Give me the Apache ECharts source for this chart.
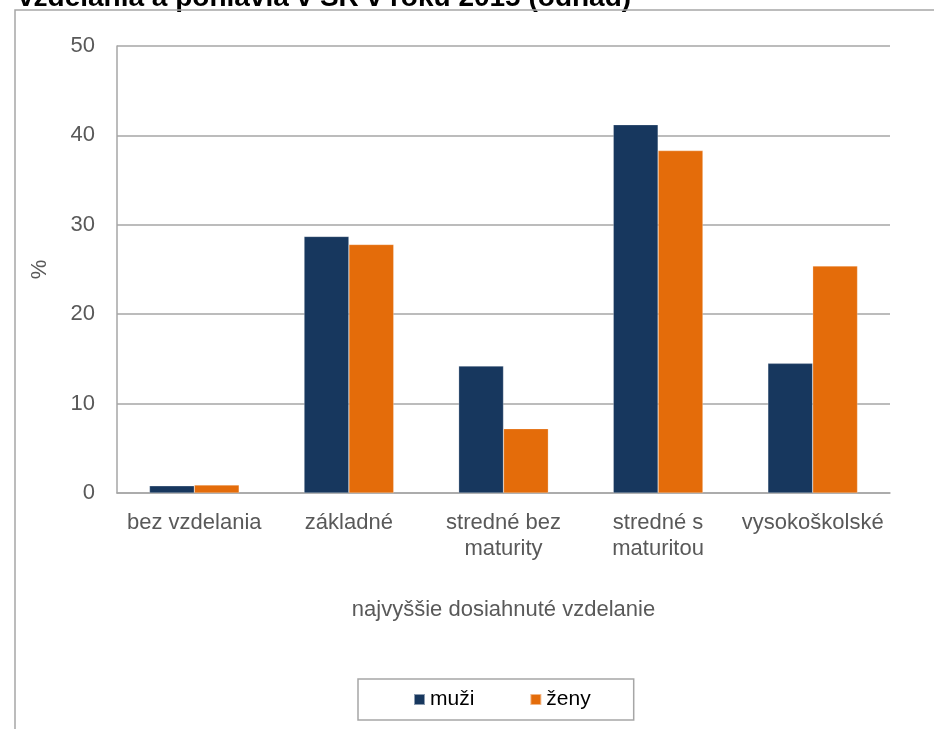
<!DOCTYPE html>
<html>
<head>
<meta charset="utf-8">
<script src="https://cdn.jsdelivr.net/npm/echarts@6/dist/echarts.min.js"></script>
<style>html,body{margin:0;padding:0;background:#fff;}#c{width:934px;height:729px;}</style>
</head>
<body>
<div id="c"></div>
<script>
var categories = ['bez vzdelania', 'základné', 'stredné bez\nmaturity', 'stredné s\nmaturitou', 'vysokoškolské'];
var seriesNames = ['muži', 'ženy'];
var muzi = [0.8, 28.7, 14.2, 41.2, 14.5];
var zeny = [0.9, 27.8, 7.2, 38.3, 25.4];
var yTicks = { min: 0, max: 50, interval: 10 };
var titleText = 'vzdelania a pohlavia v SR v roku 2015 (odhad)';
var xName = 'najvyššie dosiahnuté vzdelanie';
var yName = '%';

var FONT = '"Liberation Sans", Arial, sans-serif';
var chart = echarts.init(document.getElementById('c'));
chart.setOption({
  animation: false,
  backgroundColor: '#fff',
  textStyle: { fontFamily: FONT },
  graphic: [
    { type: 'text', left: 18, top: -16, style: { text: titleText, font: 'bold 28px "Liberation Sans", Arial, sans-serif', fill: '#000' } },
    { type: 'rect', shape: { x: 15, y: 10, width: 1200, height: 1200 }, style: { fill: 'none', stroke: '#a6a6a6', lineWidth: 1.5 }, silent: true }
  ],
  grid: { left: 117, right: 44, top: 46, bottom: 236 },
  legend: {
    data: seriesNames,
    left: 358, top: 679,
    padding: [10, 43, 10, 55],
    itemGap: 55,
    itemWidth: 11, itemHeight: 11,
    icon: 'rect',
    borderColor: '#a6a6a6', borderWidth: 1.5,
    textStyle: { fontSize: 21, color: '#000', fontFamily: FONT }
  },
  xAxis: {
    type: 'category',
    data: categories,
    name: xName,
    nameLocation: 'middle',
    nameGap: 106,
    nameTextStyle: { fontSize: 22, color: '#595959' },
    axisLine: { lineStyle: { color: '#a6a6a6', width: 1.5 } },
    axisTick: { show: false },
    axisLabel: { fontSize: 22, color: '#595959', margin: 17, lineHeight: 26, interval: 0 }
  },
  yAxis: {
    type: 'value',
    min: yTicks.min, max: yTicks.max, interval: yTicks.interval,
    name: yName,
    nameLocation: 'middle',
    nameGap: 66,
    nameRotate: 90,
    nameTextStyle: { fontSize: 22, color: '#595959' },
    axisLine: { show: true, lineStyle: { color: '#a6a6a6', width: 1.5 } },
    axisTick: { show: false },
    axisLabel: { fontSize: 22, color: '#595959', margin: 22 },
    splitLine: { lineStyle: { color: '#a6a6a6', width: 1.5 } }
  },
  series: [
    { name: seriesNames[0], type: 'bar', data: muzi, barGap: '0%', barCategoryGap: '42%', itemStyle: { color: '#17375e', borderColor: 'rgba(255,255,255,0.5)', borderWidth: 0.5 } },
    { name: seriesNames[1], type: 'bar', data: zeny, barGap: '0%', barCategoryGap: '42%', itemStyle: { color: '#e46c0a', borderColor: 'rgba(255,255,255,0.5)', borderWidth: 0.5 } }
  ]
});
</script>
</body>
</html>
